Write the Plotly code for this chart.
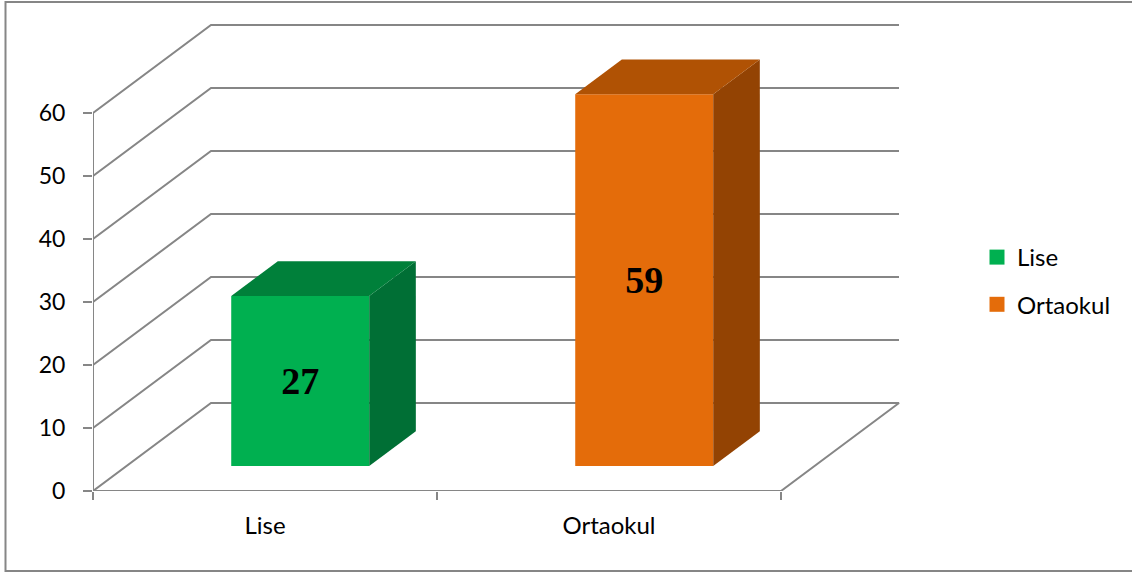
import plotly.graph_objects as go

# data
categories = ['Lise', 'Ortaokul']
values = [27, 59]
y_ticks = [0, 10, 20, 30, 40, 50, 60]

front_colors = ['#00B050', '#E46C0A']
top_colors = ['#00803A', '#B05204']
side_colors = ['#006F35', '#934303']
grid_color = '#868686'

W, H = 1132, 572
# fake 3d: one unit of depth moves a point this far in axis units
depth_x = 118 / 344
depth_y = 88 / 6.3
bar_start = 0.284   # depth where the front of the bars sits
bar_depth = 0.395
bar_width = 138 / 344
x_low, x_high = -0.5, (905 - 93) / 344 - 0.5
y_top = (491 - 20) / 6.3


def project(x, y, depth):
    return x + depth * depth_x, y + depth * depth_y


def poly(points):
    pts = [project(*p) for p in points]
    return [p[0] for p in pts], [p[1] for p in pts]


fig = go.Figure()

# walls and floor go on the base axes, so everything on the overlay is in front
for v in y_ticks:
    xs, ys = poly([(-0.5, v, 0), (-0.5, v, 1), (1.5, v, 1)])
    if v == 0:
        xs2, ys2 = poly([(1.5, 0, 1), (1.5, 0, 0), (-0.5, 0, 0)])
        xs, ys = xs + xs2, ys + ys2
    fig.add_trace(go.Scatter(x=xs, y=ys, mode='lines', showlegend=False, hoverinfo='skip',
                             line=dict(color=grid_color, width=2)))
fig.add_trace(go.Scatter(x=[-0.5, -0.5], y=[y_ticks[0], y_ticks[-1]], mode='lines', showlegend=False,
                         hoverinfo='skip', line=dict(color=grid_color, width=2)))

for i, cat in enumerate(categories):
    val = values[i]
    left = i + bar_start * depth_x - bar_width / 2 + 0.005
    right = left + bar_width
    base = bar_start * depth_y
    d0 = 0
    d1 = bar_depth
    # side and top faces
    xs, ys = poly([(right, base + d0, d0), (right, base, d1), (right, base + val, d1), (right, base + val, d0)])
    fig.add_trace(go.Scatter(x=xs, y=ys, mode='lines', fill='toself', fillcolor=side_colors[i], showlegend=False,
                             hoverinfo='skip', line=dict(width=0, color=side_colors[i]), xaxis='x2', yaxis='y2'))
    xs, ys = poly([(left, base + val, d0), (right, base + val, d0), (right, base + val, d1), (left, base + val, d1)])
    fig.add_trace(go.Scatter(x=xs, y=ys, mode='lines', fill='toself', fillcolor=top_colors[i], showlegend=False,
                             hoverinfo='skip', line=dict(width=0, color=top_colors[i]), xaxis='x2', yaxis='y2'))
    # front face
    fig.add_trace(go.Bar(x=[(left + right) / 2], y=[val], base=[base], width=[bar_width],
                         marker=dict(color=front_colors[i], line=dict(width=0)), showlegend=False,
                         text=[str(val)], textposition='inside', insidetextanchor='middle', textangle=0,
                         constraintext='none', cliponaxis=False,
                         textfont=dict(family='Liberation Serif', size=38, color='black', weight='bold'),
                         xaxis='x2', yaxis='y2'))
    # legend swatch
    fig.add_trace(go.Scatter(x=[None], y=[None], mode='markers', name=cat, legendgroup=cat,
                             marker=dict(symbol='square', size=15, color=front_colors[i])))

tick_font = dict(family='Lato', size=23, color='black')
text_font = dict(family='Lato', size=24, color='black')
x_domain = [93 / W, 905 / W]
y_domain = [1 - 491 / H, 1 - 20 / H]

fig.update_layout(
    width=W, height=H,
    margin=dict(l=0, r=0, t=0, b=0),
    paper_bgcolor='white', plot_bgcolor='rgba(0,0,0,0)',
    font=tick_font,
    barmode='overlay',
    xaxis=dict(domain=x_domain, range=[x_low, x_high], showgrid=False, zeroline=False, showline=False,
               automargin=False,
               tickmode='array', tickvals=[0, 1], ticktext=categories, ticks='', ticklabelstandoff=18,
               tickfont=text_font,
               minor=dict(tickmode='array', tickvals=[-0.5, 0.5, 1.5], ticks='outside', ticklen=8,
                          tickcolor=grid_color, tickwidth=2, showgrid=False)),
    yaxis=dict(domain=y_domain, range=[0, y_top], showgrid=False, zeroline=False, showline=False,
               automargin=False,
               tickmode='array', tickvals=y_ticks, ticks='outside', ticklen=9, tickcolor=grid_color,
               tickwidth=2, ticklabelstandoff=13, tickfont=tick_font),
    xaxis2=dict(domain=x_domain, range=[x_low, x_high], overlaying='x', anchor='y2', visible=False, automargin=False),
    yaxis2=dict(domain=y_domain, range=[0, y_top], overlaying='y', anchor='x2', visible=False, automargin=False),
    legend=dict(x=977 / W, y=1 - 235 / H, xanchor='left', yanchor='top', tracegroupgap=13,
                bgcolor='rgba(0,0,0,0)', font=text_font, itemsizing='trace'),
    shapes=[dict(type='rect', xref='paper', yref='paper', x0=5.5 / W, x1=1.1, y0=1 - 571 / H, y1=1 - 2 / H,
                 line=dict(color=grid_color, width=2), layer='below')],
)

fig.write_html("out.html", config=dict(displayModeBar=False), default_width=W, default_height=H,
               post_script="document.body.style.margin='0';document.body.style.overflow='hidden';")
